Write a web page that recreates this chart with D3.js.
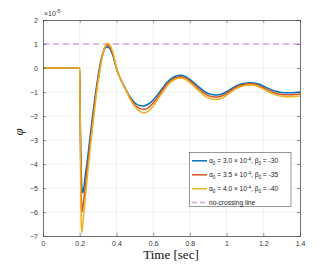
<!DOCTYPE html>
<html><head><meta charset="utf-8">
<script src="https://cdn.jsdelivr.net/npm/d3@7"></script>
<style>body{margin:0;background:#fff}svg{display:block}</style>
</head><body><svg id="c" width="332" height="266"></svg>
<script>
const times = [0,0.2,0.204,0.208,0.212,0.216,0.22,0.225,0.23,
0.24,0.25,0.26,0.27,0.28,0.29,0.30,0.31,0.32,0.33,0.34,0.35,0.36,0.37,0.38,0.39,0.40,
0.425,0.45,0.475,0.50,0.525,0.55,0.575,0.60,0.625,0.65,0.675,0.70,0.725,0.75,0.775,0.80,
0.825,0.85,0.875,0.90,0.925,0.95,0.975,1.0,1.025,1.05,1.075,1.10,1.125,1.15,1.175,1.20,
1.225,1.25,1.275,1.30,1.325,1.35,1.375,1.40];
const seriesA = [0,0,-2.6,-4.3,-5.0,-5.2,-5.1,-4.85,-4.5,
-3.95,-3.3,-2.65,-2.0,-1.4,-0.85,-0.35,0.1,0.45,0.7,0.84,0.88,0.84,0.72,0.53,0.27,-0.02,
-0.5,-0.88,-1.22,-1.45,-1.56,-1.58,-1.5,-1.33,-1.1,-0.85,-0.6,-0.43,-0.33,-0.3,-0.35,-0.47,
-0.63,-0.8,-0.95,-1.06,-1.11,-1.12,-1.08,-0.99,-0.87,-0.76,-0.68,-0.63,-0.61,-0.62,-0.67,-0.75,
-0.84,-0.92,-0.98,-1.02,-1.03,-1.03,-1.02,-1.0];
const seriesB = [0,0,-3.0,-5.3,-6.0,-5.85,-5.6,-5.3,-4.95,
-4.3,-3.6,-2.9,-2.22,-1.6,-1.0,-0.48,0.0,0.4,0.7,0.89,0.96,0.92,0.79,0.6,0.31,0.0,
-0.5,-0.89,-1.26,-1.53,-1.68,-1.72,-1.65,-1.46,-1.21,-0.94,-0.68,-0.5,-0.39,-0.36,-0.41,-0.54,
-0.7,-0.88,-1.04,-1.15,-1.2,-1.21,-1.16,-1.06,-0.93,-0.81,-0.73,-0.68,-0.66,-0.67,-0.73,-0.82,
-0.91,-1.0,-1.06,-1.1,-1.11,-1.11,-1.1,-1.08];
const seriesC = [0,0,-3.4,-6.4,-6.85,-6.55,-6.25,-5.85,-5.45,
-4.65,-3.9,-3.15,-2.45,-1.8,-1.15,-0.6,-0.1,0.33,0.68,0.93,1.03,1.0,0.87,0.67,0.36,0.02,
-0.5,-0.9,-1.3,-1.6,-1.8,-1.88,-1.8,-1.6,-1.32,-1.03,-0.76,-0.57,-0.46,-0.42,-0.47,-0.61,
-0.78,-0.96,-1.13,-1.24,-1.3,-1.31,-1.25,-1.14,-1.0,-0.87,-0.78,-0.73,-0.71,-0.72,-0.78,-0.88,
-0.98,-1.07,-1.14,-1.18,-1.2,-1.2,-1.19,-1.17];
const limitValue = 1;
const legendAlpha = ["3.0","3.5","4.0"];
const legendBeta = ["-30","-35","-40"];
const colors = ["#0072BD","#D95319","#EDB120"];
const limitColor = "#cfa8da";
const xTicks = [0,0.2,0.4,0.6,0.8,1,1.2,1.4];
const yTicks = [-7,-6,-5,-4,-3,-2,-1,0,1,2];

const svg = d3.select("#c");
const L=43,R=300,T=20,B=236;
const x = d3.scaleLinear().domain([0,1.4]).range([L,R]);
const y = d3.scaleLinear().domain([-7,2]).range([B,T]);
const axC = "#4d4d4d", font = "Helvetica, Arial, 'Liberation Sans', sans-serif";

// grid
svg.append("g").selectAll("line").data(xTicks.slice(1,-1)).join("line")
  .attr("x1",d=>x(d)).attr("x2",d=>x(d)).attr("y1",T).attr("y2",B)
  .attr("stroke","#e6e6e6").attr("stroke-width",0.6);
svg.append("g").selectAll("line").data(yTicks.slice(1,-1)).join("line")
  .attr("y1",d=>y(d)).attr("y2",d=>y(d)).attr("x1",L).attr("x2",R)
  .attr("stroke","#e6e6e6").attr("stroke-width",0.6);

// limit line
svg.append("line").attr("x1",x(0)).attr("x2",x(1.4)).attr("y1",y(limitValue)).attr("y2",y(limitValue))
  .attr("stroke",limitColor).attr("stroke-width",1.6).attr("stroke-dasharray","6,4");

const line = d3.line().x((d,i)=>x(times[i])).y(d=>y(d)).curve(d3.curveMonotoneX);
[seriesA,seriesB,seriesC].forEach((s,k)=>{
  svg.append("path").attr("d",line(s)).attr("fill","none")
    .attr("stroke",colors[k]).attr("stroke-width",1.5).attr("stroke-linejoin","round");
});

// axes box
const gx = svg.append("g").attr("transform",`translate(0,${B})`)
  .call(d3.axisBottom(x).tickValues(xTicks).tickFormat(d3.format("")).tickSize(-3).tickPadding(5));
const gxt = svg.append("g").attr("transform",`translate(0,${T})`)
  .call(d3.axisTop(x).tickValues(xTicks).tickFormat("").tickSize(-3));
const gy = svg.append("g").attr("transform",`translate(${L},0)`)
  .call(d3.axisLeft(y).tickValues(yTicks).tickFormat(d3.format("d")).tickSize(-3).tickPadding(5));
const gyr = svg.append("g").attr("transform",`translate(${R},0)`)
  .call(d3.axisRight(y).tickValues(yTicks).tickFormat("").tickSize(-3));
[gx,gxt,gy,gyr].forEach(g=>{
  g.select(".domain").attr("stroke",axC).attr("stroke-width",0.8);
  g.selectAll(".tick line").attr("stroke",axC).attr("stroke-width",0.6);
  g.selectAll("text").attr("fill","#333").attr("font-size",7).attr("font-family",font);
});

// exponent label
const ex = svg.append("text").attr("x",44).attr("y",16).attr("font-size",7).attr("font-family",font).attr("fill","#333");
ex.append("tspan").text("×10");
ex.append("tspan").attr("dy",-3).attr("font-size",5).text("-5");

// y label
svg.append("text").attr("transform","translate(23,132) rotate(-90)").attr("text-anchor","middle")
  .attr("font-family","'Liberation Serif', 'DejaVu Serif', serif").attr("font-style","italic")
  .attr("font-size",13).attr("fill","#111").text("φ");
// x label
svg.append("text").attr("x",171).attr("y",259).attr("text-anchor","middle")
  .attr("font-family","'Liberation Serif', 'Times New Roman', serif")
  .attr("font-size",13).attr("fill","#111").text("Time [sec]");

// legend
const lg = svg.append("g");
lg.append("rect").attr("x",189.5).attr("y",152.5).attr("width",101.5).attr("height",54)
  .attr("fill","#fff").attr("stroke","#555").attr("stroke-width",0.6);
const rows = [160.8,174.8,188.8,202.5];
legendAlpha.forEach((a,k)=>{
  lg.append("line").attr("x1",192).attr("x2",207).attr("y1",rows[k]).attr("y2",rows[k])
    .attr("stroke",colors[k]).attr("stroke-width",1.5);
  const t = lg.append("text").attr("x",209).attr("y",rows[k]+2.5).attr("font-size",6.6)
    .attr("font-family",font).attr("fill","#222");
  t.append("tspan").text("α");
  t.append("tspan").attr("dy",1.8).attr("font-size",4.6).text("0");
  t.append("tspan").attr("dy",-1.8).text(" = "+a+" × 10");
  t.append("tspan").attr("dy",-2.8).attr("font-size",4.6).text("-4");
  t.append("tspan").attr("dy",2.8).text(", β");
  t.append("tspan").attr("dy",1.8).attr("font-size",4.6).text("0");
  t.append("tspan").attr("dy",-1.8).text(" = "+legendBeta[k]);
});
lg.append("line").attr("x1",192).attr("x2",207).attr("y1",rows[3]).attr("y2",rows[3])
  .attr("stroke",limitColor).attr("stroke-width",1.5).attr("stroke-dasharray","5,3");
lg.append("text").attr("x",209).attr("y",rows[3]+2.5).attr("font-size",6.6)
  .attr("font-family",font).attr("fill","#222").text("no-crossing line");
</script></body></html>
